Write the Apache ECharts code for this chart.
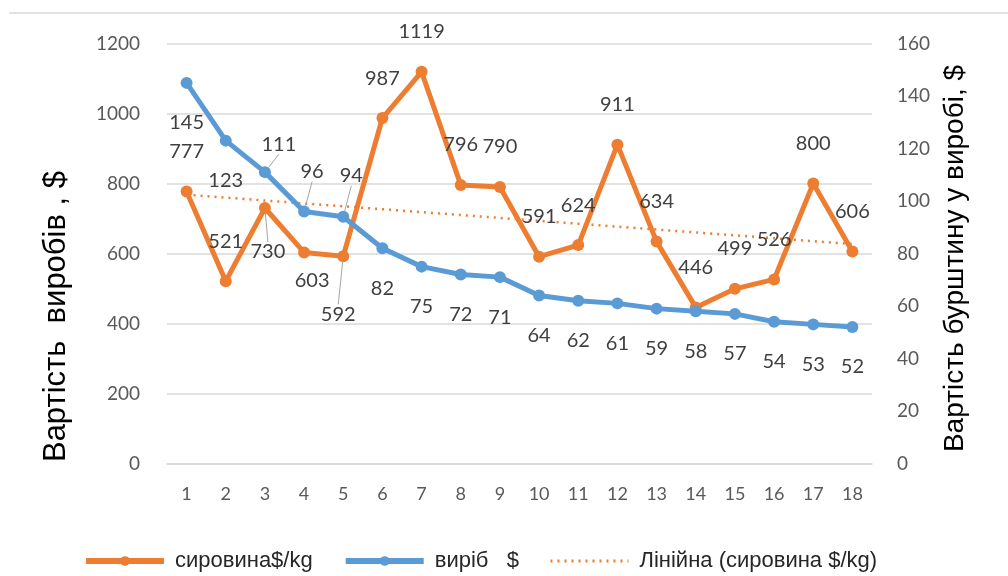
<!DOCTYPE html>
<html>
<head>
<meta charset="utf-8">
<script src="https://cdn.jsdelivr.net/npm/echarts@6/dist/echarts.min.js"></script>
<style>
    html, body { margin: 0; padding: 0; background: #fff; }
    #chart { width: 1008px; height: 576px; }
</style>
</head>
<body>
<div id="chart"></div>
<script>
// категорії (номер зразка)
const categories = ['1', '2', '3', '4', '5', '6', '7', '8', '9', '10', '11', '12', '13', '14', '15', '16', '17', '18'];
// сировина $/kg (ліва вісь)
const rawValues = [777, 521, 730, 603, 592, 987, 1119, 796, 790, 591, 624, 911, 634, 446, 499, 526, 800, 606];
// виріб $ (права вісь)
const itemValues = [145, 123, 111, 96, 94, 82, 75, 72, 71, 64, 62, 61, 59, 58, 57, 54, 53, 52];
// лінійний тренд сировини: тільки кінцеві точки
const trendValues = [768, null, null, null, null, null, null, null, null, null, null, null, null, null, null, null, null, 627];
const leftTicks = { min: 0, max: 1200, interval: 200 };
const rightTicks = { min: 0, max: 160, interval: 20 };

const ORANGE = '#ED7D31';
const BLUE = '#5B9BD5';
const labelFont = 'Lato, "Open Sans", sans-serif';
const titleFont = '"Liberation Sans", Arial, sans-serif';

// зсуви підписів, які в оригіналі винесені вбік
const rawShift = { 2: [3, 84, true], 3: [8, 68, false], 4: [-5, 98, true] };
const itemShift = { 2: [14, -68, true], 3: [8, -80, true], 4: [8, -81, true] };

const chart = echarts.init(document.getElementById('chart'));

const withLines = (values, shifts) => values.map((v, i) => {
    const s = shifts[i];
    return s && s[2] ? { value: v, labelLine: { show: true } } : v;
});

const option = {
    backgroundColor: '#fff',
    animation: false,
    textStyle: { fontFamily: labelFont },
    graphic: [{
        type: 'line',
        shape: { x1: 9, y1: 13, x2: 1008, y2: 13 },
        style: { stroke: '#d9d9d9', lineWidth: 1.5 }
    }],
    grid: { left: 167, right: 136, top: 43.5, bottom: 112.5 },
    legend: {
        left: 78,
        top: 545,
        itemWidth: 78,
        itemHeight: 12,
        itemGap: 30,
        lineStyle: { width: 6 },
        textStyle: { fontFamily: titleFont, fontSize: 22, color: '#262626', padding: [0, 0, 0, 6] },
        data: [
            'сировина$/kg',
            'виріб   $',
            { name: 'Лінійна (сировина $/kg)', itemStyle: { opacity: 0 }, lineStyle: { width: 3 } }
        ]
    },
    xAxis: {
        type: 'category',
        data: categories,
        axisLine: { lineStyle: { color: '#d9d9d9', width: 1.5 } },
        axisTick: { show: false },
        axisLabel: { color: '#595959', fontSize: 18, margin: 22 }
    },
    yAxis: [{
        type: 'value',
        min: leftTicks.min,
        max: leftTicks.max,
        interval: leftTicks.interval,
        name: 'Вартість  виробів , $',
        nameLocation: 'middle',
        nameGap: 95,
        nameTextStyle: { color: '#000', fontSize: 31, fontFamily: titleFont, padding: [0, 126, 0, 0] },
        axisLine: { show: false },
        axisTick: { show: false },
        axisLabel: { color: '#595959', fontSize: 19, margin: 27, formatter: (v) => String(v) },
        splitLine: { lineStyle: { color: '#d9d9d9', width: 1.5 } }
    }, {
        type: 'value',
        min: rightTicks.min,
        max: rightTicks.max,
        interval: rightTicks.interval,
        name: 'Вартість бурштину у виробі, $',
        nameLocation: 'middle',
        nameGap: 69,
        nameTextStyle: { color: '#000', fontSize: 28, fontFamily: titleFont, padding: [0, 10, 0, 0] },
        axisLine: { show: false },
        axisTick: { show: false },
        axisLabel: { color: '#595959', fontSize: 19, margin: 25 },
        splitLine: { show: false }
    }],
    series: [{
        name: 'сировина$/kg',
        type: 'line',
        yAxisIndex: 0,
        data: withLines(rawValues, rawShift),
        color: ORANGE,
        symbol: 'circle',
        symbolSize: 12,
        lineStyle: { width: 5 },
        z: 3,
        label: { show: true, position: 'top', distance: 24, color: '#404040', fontSize: 20 },
        labelLine: { show: false, lineStyle: { color: '#a6a6a6', width: 1 } },
        labelLayout: (p) => {
            const s = rawShift[p.dataIndex];
            return s ? { dx: s[0], dy: s[1] } : {};
        }
    }, {
        name: 'виріб   $',
        type: 'line',
        yAxisIndex: 1,
        data: withLines(itemValues, itemShift),
        color: BLUE,
        symbol: 'circle',
        symbolSize: 12,
        lineStyle: { width: 5 },
        z: 4,
        label: { show: true, position: 'bottom', distance: 24, color: '#404040', fontSize: 20 },
        labelLine: { show: false, lineStyle: { color: '#a6a6a6', width: 1 } },
        labelLayout: (p) => {
            const s = itemShift[p.dataIndex];
            return s ? { dx: s[0], dy: s[1] } : {};
        }
    }, {
        name: 'Лінійна (сировина $/kg)',
        type: 'line',
        yAxisIndex: 0,
        data: trendValues,
        connectNulls: true,
        color: ORANGE,
        symbol: 'none',
        lineStyle: { width: 2.5, type: [2, 5] },
        z: 2
    }]
};

chart.setOption(option);
</script>
</body>
</html>
